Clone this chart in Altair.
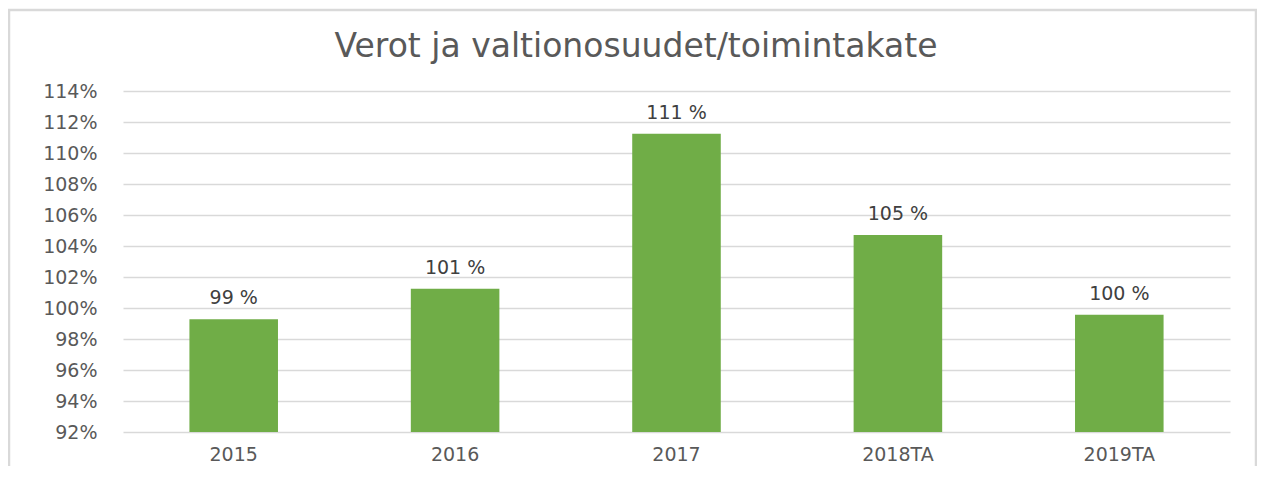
import altair as alt
import pandas as pd

categories = ["2015", "2016", "2017", "2018TA", "2019TA"]
values = [99.27, 101.24, 111.25, 104.71, 99.57]
labels = ["99 %", "101 %", "111 %", "105 %", "100 %"]
y_ticks = [92, 94, 96, 98, 100, 102, 104, 106, 108, 110, 112, 114]
title_text = "Verot ja valtionosuudet/toimintakate"

df = pd.DataFrame({"cat": categories, "val": values, "lab": labels})

FONT = "DejaVu Sans"
GRAY = "#595959"

x_scale = alt.Scale(paddingInner=0.6, paddingOuter=0.3)
y_scale = alt.Scale(domain=[92, 114], nice=False, zero=False)

x_axis = alt.Axis(
    title=None, labelAngle=0, domain=False, ticks=False,
    labelFont=FONT, labelFontSize=19, labelColor=GRAY, labelPadding=13,
    labelOverlap=False,
)
y_axis = alt.Axis(
    title=None, values=y_ticks, labelExpr="datum.value + '%'",
    domain=False, ticks=False, gridColor="#d9d9d9", gridWidth=1.3,
    labelFont=FONT, labelFontSize=19, labelColor=GRAY, labelPadding=26,
    labelOverlap=False, labelBound=False,
)

x_enc = alt.X("cat:N", sort=categories, scale=x_scale, axis=x_axis)
y_enc = alt.Y("val:Q", scale=y_scale, axis=y_axis)

frame = alt.Chart(pd.DataFrame({"a": [0]})).mark_rect(
    fill=None, stroke="#d9d9d9", strokeWidth=2.5, clip=False
).encode(
    x=alt.value(-114), x2=alt.value(1133), y=alt.value(-81), y2=alt.value(420)
)

title = alt.Chart(pd.DataFrame({"t": [title_text]})).mark_text(
    font=FONT, fontSize=33, color=GRAY, align="center", baseline="alphabetic",
    clip=False,
).encode(x=alt.value(513), y=alt.value(-34), text="t:N")

bars = alt.Chart(df).mark_bar(color="#70AD47", clip=True).encode(x=x_enc, y=y_enc)

text = alt.Chart(df).mark_text(
    dy=-15, baseline="alphabetic", font=FONT, fontSize=19, color="#404040"
).encode(x=x_enc, y=y_enc, text="lab:N")

chart = alt.layer(frame, title, bars, text).properties(
    width=1107,
    height=341,
    autosize=alt.AutoSizeParams(type="none"),
    padding={"left": 115, "top": 83, "right": 27, "bottom": 34},
).configure_view(stroke=None)

chart.save("out.html", embed_options={"renderer": "svg", "actions": False})
